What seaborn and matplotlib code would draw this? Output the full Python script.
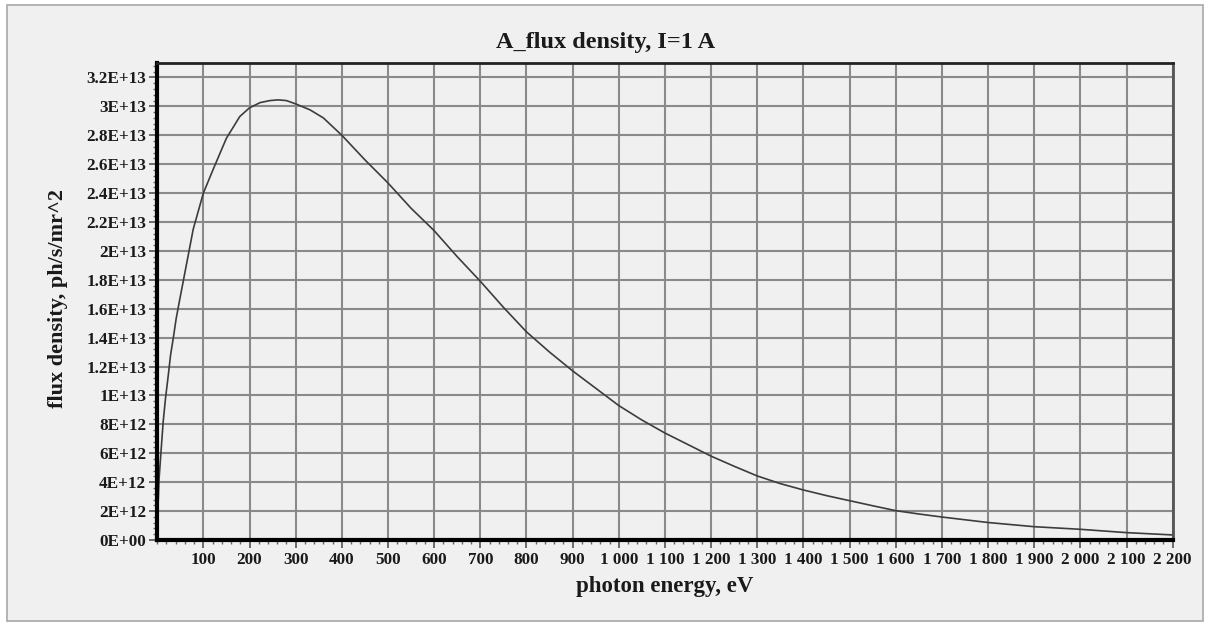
import math
import matplotlib
matplotlib.use("Agg")
import matplotlib.pyplot as plt
import matplotlib.ticker as mticker
from matplotlib.patches import Rectangle
import seaborn as sns
import pandas as pd

# ---- data ----
energy_eV = [2, 4, 8, 13, 18, 24, 29, 35, 41, 48, 60, 78, 100, 122, 150, 179, 200,
             223, 244, 262, 280, 300, 331, 360, 400, 450, 500, 550, 600, 650, 700,
             750, 800, 850, 900, 950, 1000, 1050, 1100, 1150, 1200, 1250, 1300, 1350,
             1400, 1450, 1500, 1550, 1600, 1650, 1700, 1750, 1800, 1900, 2000, 2100, 2200]
flux_e12 = [2.5, 4.2, 6.0, 8.2, 9.8, 11.4, 12.8, 14.0, 15.3, 16.5, 18.5, 21.5, 24.0, 25.7,
            27.8, 29.3, 29.9, 30.26, 30.4, 30.45, 30.4, 30.17, 29.76, 29.2, 28.0, 26.3,
            24.7, 22.95, 21.4, 19.6, 17.9, 16.1, 14.4, 13.0, 11.7, 10.5, 9.3, 8.3, 7.4,
            6.6, 5.8, 5.1, 4.43, 3.9, 3.46, 3.07, 2.72, 2.37, 2.03, 1.8, 1.59, 1.4, 1.21,
            0.92, 0.74, 0.51, 0.35]
flux = [v * 1e12 for v in flux_e12]

title = "A_flux density, I=1 A"
xlabel = "photon energy, eV"
ylabel = "flux density, ph/s/mr^2"
x_ticks = list(range(100, 2201, 100))
y_ticks = [i * 2e12 for i in range(17)]

df = pd.DataFrame({"energy": energy_eV, "flux": flux})

sns.set_theme(style="white")
plt.rcParams["font.family"] = ["Liberation Serif", "DejaVu Serif"]
plt.rcParams["font.weight"] = "bold"

fig = plt.figure(figsize=(12.08, 6.25), dpi=100)
fig.patch.set_facecolor("white")
# panel background with border
fig.patches.append(Rectangle((7 / 1208, 1 - 621 / 625), (1203 - 7) / 1208, (621 - 5) / 625,
                             transform=fig.transFigure, facecolor="#f0f0f0",
                             edgecolor="#a8a8a8", linewidth=1.2, zorder=-10))

ax = fig.add_axes([157.2 / 1208, 1 - 540 / 625, (1172.7 - 157.2) / 1208, (540 - 63) / 625])
ax.set_facecolor("#f0f0f0")

sns.lineplot(data=df, x="energy", y="flux", ax=ax, color="#3c3c3c", linewidth=1.2)

ax.set_xlim(0, 2200)
ax.set_ylim(0, 3.3e13)
ax.set_xticks(x_ticks)
ax.set_yticks(y_ticks)
ax.xaxis.set_minor_locator(mticker.MultipleLocator(20))
ax.yaxis.set_minor_locator(mticker.MultipleLocator(4e11))


def fmt_x(v, pos):
    return f"{int(round(v)):,}".replace(",", " ")


def fmt_y(v, pos):
    if v == 0:
        return "0E+00"
    e = int(math.floor(math.log10(abs(v)) + 1e-9))
    m = v / 10 ** e
    ms = f"{m:.1f}".rstrip("0").rstrip(".")
    return f"{ms}E+{e:02d}"


ax.xaxis.set_major_formatter(mticker.FuncFormatter(fmt_x))
ax.yaxis.set_major_formatter(mticker.FuncFormatter(fmt_y))

ax.grid(True, which="major", color="#8a8a8a", linewidth=1.5)
ax.set_axisbelow(True)

ax.tick_params(axis="both", which="major", direction="out", length=6, width=1.2,
               color="#555555", labelsize=12.3, labelcolor="#1a1a1a", bottom=True, left=True)
ax.tick_params(axis="both", which="minor", direction="out", length=3, width=1,
               color="#666666", bottom=True, left=True)
ax.tick_params(axis="x", which="major", pad=3)
ax.tick_params(axis="y", which="major", pad=2)
for lab in ax.get_xticklabels() + ax.get_yticklabels():
    lab.set_fontweight("bold")

for side in ["left", "bottom"]:
    ax.spines[side].set_color("black")
    ax.spines[side].set_linewidth(3)
for side in ["top", "right"]:
    ax.spines[side].set_color("#222222")
    ax.spines[side].set_linewidth(2)
ax.spines["right"].set_color("#555555")

fig.text(606 / 1208, 1 - 48 / 625, title, fontsize=17.5, fontweight="bold",
         color="#1a1a1a", ha="center", va="baseline")
ax.set_xlabel(xlabel, fontsize=16.5, fontweight="bold", color="#1a1a1a")
ax.set_ylabel(ylabel, fontsize=16, fontweight="bold", color="#1a1a1a")
ax.xaxis.set_label_coords(0.5, -(576 - 540) / 477)
ax.xaxis.label.set_va("top")
ax.yaxis.set_label_coords((68 - 157.2) / 1015.5, 0.507)

fig.savefig("out.png", dpi=100, facecolor=fig.get_facecolor())
